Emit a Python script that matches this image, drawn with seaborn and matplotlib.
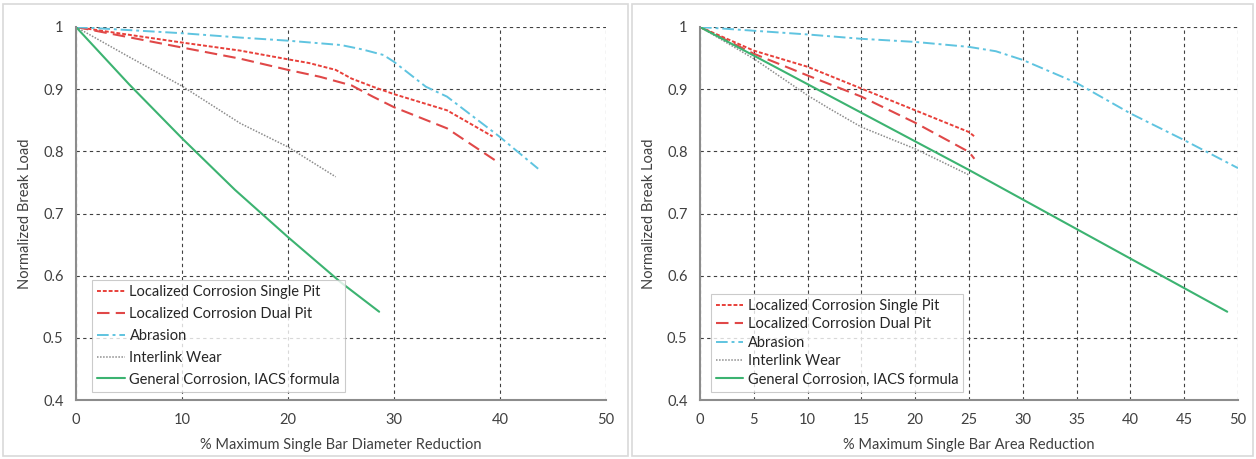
import numpy as np
import pandas as pd
import matplotlib.pyplot as plt
import matplotlib.patches as mpatches
import matplotlib.ticker as mticker
import seaborn as sns

# Left panel: % max single bar diameter reduction
DIA_SINGLE_X = [0, 10, 15.5, 20, 22, 24.5, 26, 28, 30, 35, 39.3]
DIA_SINGLE_Y = [1.0, 0.975, 0.962, 0.948, 0.942, 0.931, 0.917, 0.904, 0.892, 0.866, 0.824]
DIA_DUAL_X = [0, 10, 15.5, 20, 23, 26, 28, 30, 35, 39.5]
DIA_DUAL_Y = [1.0, 0.967, 0.949, 0.931, 0.920, 0.906, 0.888, 0.871, 0.837, 0.786]
DIA_ABR_X = [0, 10, 15.5, 20, 25, 27, 29, 30, 33, 35, 40, 43.6]
DIA_ABR_Y = [1.0, 0.990, 0.983, 0.978, 0.971, 0.964, 0.955, 0.944, 0.904, 0.888, 0.823, 0.772]
DIA_WEAR_X = [0, 5, 10, 15.5, 20, 24.5]
DIA_WEAR_Y = [1.0, 0.952, 0.905, 0.845, 0.807, 0.759]
DIA_GEN_X = [0, 5, 10, 15, 20, 25, 28.6]
DIA_GEN_Y = [1.0, 0.908, 0.821, 0.738, 0.662, 0.589, 0.542]

# Right panel: % max single bar area reduction
AREA_SINGLE_X = [0, 5, 10, 15, 20, 25, 25.5]
AREA_SINGLE_Y = [1.0, 0.962, 0.936, 0.901, 0.866, 0.831, 0.824]
AREA_DUAL_X = [0, 5, 10, 15, 20, 25, 25.5]
AREA_DUAL_Y = [1.0, 0.957, 0.922, 0.888, 0.846, 0.799, 0.788]
AREA_ABR_X = [0, 5, 10, 15, 20, 25, 27.5, 30, 35, 40, 45, 50]
AREA_ABR_Y = [1.0, 0.994, 0.988, 0.981, 0.976, 0.968, 0.961, 0.947, 0.910, 0.861, 0.818, 0.773]
AREA_WEAR_X = [0, 5, 10, 12, 15, 20, 25]
AREA_WEAR_Y = [1.0, 0.949, 0.890, 0.869, 0.839, 0.804, 0.762]
AREA_GEN_X = [0, 25, 49]
AREA_GEN_Y = [1.0, 0.770, 0.542]

LABELS = [
    "Localized Corrosion Single Pit",
    "Localized Corrosion Dual Pit",
    "Abrasion",
    "Interlink Wear",
    "General Corrosion, IACS formula",
]
STYLES = [
    dict(color="#e8403a", linestyle=(0, (2, 1)), linewidth=1.4),
    dict(color="#e04848", linestyle=(0, (6, 3)), linewidth=1.5),
    dict(color="#5fc4e0", linestyle=(0, (6, 2, 1.5, 2)), linewidth=1.4),
    dict(color="#8c8c8c", linestyle=(0, (1, 1)), linewidth=1.1),
    dict(color="#3cb371", linestyle="-", linewidth=1.5),
]

sns.set_style("white")
plt.rcParams["font.family"] = ["Lato", "DejaVu Sans"]

fig = plt.figure(figsize=(12.56, 4.59), dpi=100)

# panel frames
for x0, w in [(3, 625), (632, 621)]:
    fig.patches.append(mpatches.Rectangle(
        (x0 / 1256, 3 / 459), w / 1256, 452 / 459, transform=fig.transFigure,
        fill=False, edgecolor="#d9d9d9", linewidth=1.2))

ax1 = fig.add_axes([76 / 1256, 59 / 459, 530 / 1256, 373 / 459])
ax2 = fig.add_axes([700 / 1256, 59 / 459, 538 / 1256, 373 / 459])

panels = [
    (ax1, [(DIA_SINGLE_X, DIA_SINGLE_Y), (DIA_DUAL_X, DIA_DUAL_Y), (DIA_ABR_X, DIA_ABR_Y),
           (DIA_WEAR_X, DIA_WEAR_Y), (DIA_GEN_X, DIA_GEN_Y)],
     "% Maximum Single Bar Diameter Reduction", 10, 0.54, 0.017),
    (ax2, [(AREA_SINGLE_X, AREA_SINGLE_Y), (AREA_DUAL_X, AREA_DUAL_Y), (AREA_ABR_X, AREA_ABR_Y),
           (AREA_WEAR_X, AREA_WEAR_Y), (AREA_GEN_X, AREA_GEN_Y)],
     "% Maximum Single Bar Area Reduction", 5, 0.3, 0.006),
]

for ax, series, xlabel, xstep, lsp, lx in panels:
    for (xs, ys), label, st in zip(series, LABELS, STYLES):
        df = pd.DataFrame({"x": xs, "y": ys})
        sns.lineplot(data=df, x="x", y="y", ax=ax, label=label, sort=False,
                     estimator=None, **st)
    ax.set_xlim(0, 50)
    ax.set_ylim(0.4, 1.0)
    ax.xaxis.set_major_locator(mticker.MultipleLocator(xstep))
    ax.yaxis.set_major_locator(mticker.MultipleLocator(0.1))
    ax.yaxis.set_major_formatter(mticker.FuncFormatter(lambda v, p: f"{v:g}"))
    ax.grid(True, color="#404040", linestyle=(0, (3, 3)), linewidth=0.8)
    for side in ["top", "right"]:
        ax.spines[side].set_visible(False)
    for side in ["left", "bottom"]:
        ax.spines[side].set_color("#8c8c8c")
        ax.spines[side].set_linewidth(1.5)
    ax.tick_params(axis="both", labelsize=10.5, colors="#404040", length=0, pad=9)
    ax.set_xlabel(xlabel, fontsize=10.5, color="#404040", labelpad=8)
    ax.set_ylabel("Normalized Break Load", fontsize=10.5, color="#404040", labelpad=8)
    leg = ax.legend(loc="lower left", fontsize=10.5, handlelength=1.9, handletextpad=0.3,
                    labelspacing=lsp, borderpad=0.35, fancybox=False,
                    bbox_to_anchor=(lx, 0.003))
    leg.get_frame().set_edgecolor("#bfbfbf")
    leg.get_frame().set_linewidth(0.8)
    for t in leg.get_texts():
        t.set_color("#262626")

fig.savefig("out.png", dpi=100)
